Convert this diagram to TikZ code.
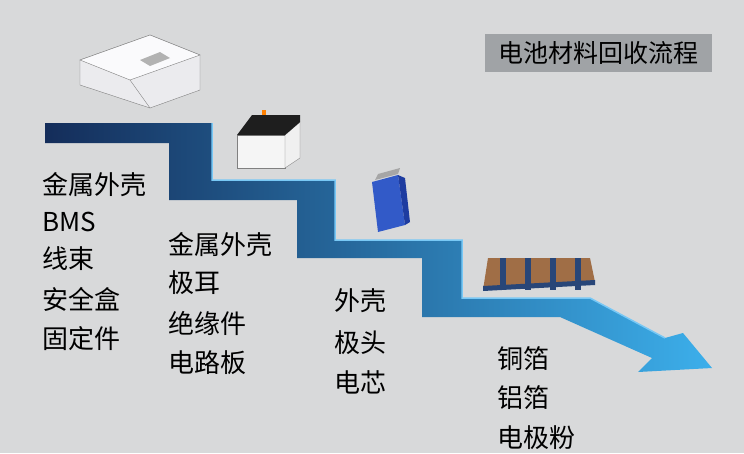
\documentclass[tikz,border=0pt]{standalone}
\usepackage{fontspec}
\setmainfont{Noto Sans CJK SC}
\begin{document}
\begin{tikzpicture}[x=1pt,y=-1pt,
  lbl/.style={anchor=west,font=\fontsize{26}{26}\selectfont,text=black,inner sep=0pt}]
\useasboundingbox (0,0) rectangle (744,453);
\fill[color={rgb,255:red,216;green,217;blue,218}] (0,0) rectangle (744,453);
% title
\node[fill={rgb,255:red,160;green,163;blue,166},minimum width=227pt,minimum height=38pt,inner sep=0pt,font=\fontsize{25}{25}\selectfont,text=black] (title) at (598,53) {电池材料回收流程};
% staircase arrow
\shade[left color={rgb,255:red,20;green,45;blue,90},right color={rgb,255:red,60;green,175;blue,235}]
 (45,123) -- (212,123) -- (212,180) -- (335,180) -- (335,240) -- (462,240) -- (462,298) -- (590,298)
 -- (665,338) -- (683,333) -- (712,368) -- (638,372) -- (652,358) -- (560,317) -- (422,317) -- (422,258)
 -- (297,258) -- (297,200) -- (169,200) -- (169,143) -- (45,143) -- cycle;
\draw[color={rgb,255:red,120;green,200;blue,245},line width=1.5pt] (212,123) -- (212,180) -- (335,180) -- (335,240) -- (462,240) -- (462,298) -- (590,298) -- (665,338);
% BMS box
\fill[color={rgb,255:red,235;green,235;blue,238},draw=gray] (80,60) -- (150,35) -- (200,55) -- (200,90) -- (150,108) -- (80,85) -- cycle;
\fill[color={rgb,255:red,250;green,250;blue,252},draw=gray] (80,60) -- (150,35) -- (200,55) -- (130,80) -- cycle;
\draw[gray] (130,80) -- (150,108);
\fill[gray!60] (140,60) -- (160,52) -- (170,58) -- (150,66) -- cycle;
% module
\fill[color={rgb,255:red,245;green,245;blue,245},draw=gray] (237,135) -- (285,135) -- (285,168) -- (237,168) -- cycle;
\fill[color={rgb,255:red,240;green,240;blue,240},draw=gray] (285,135) -- (300,122) -- (300,158) -- (285,168) -- cycle;
\fill[color={rgb,255:red,30;green,30;blue,30}] (237,135) -- (252,115) -- (300,115) -- (300,122) -- (285,135) -- cycle;
\fill[orange] (262,115) rectangle (266,110);
% cell
\fill[color={rgb,255:red,50;green,90;blue,200}] (372,182) -- (398,175) -- (405,225) -- (378,232) -- cycle;
\fill[color={rgb,255:red,30;green,60;blue,160}] (398,175) -- (405,178) -- (410,222) -- (405,225) -- cycle;
\fill[gray!70] (375,180) -- (398,174) -- (400,168) -- (378,174) -- cycle;
% stack
\fill[color={rgb,255:red,160;green,110;blue,70}] (488,258) -- (590,258) -- (595,282) -- (483,290) -- cycle;
\fill[color={rgb,255:red,40;green,70;blue,120}] (483,286) -- (595,280) -- (595,285) -- (483,291) -- cycle;
\foreach \xx in {500,525,550,575}{\fill[color={rgb,255:red,40;green,70;blue,120}] (\xx,258) rectangle (\xx+6,290);}
% labels
\node[lbl] (a1) at (42,185) {金属外壳};
\node[lbl] (a2) at (42,222) {BMS};
\node[lbl] (a3) at (42,259) {线束};
\node[lbl] (a4) at (42,299) {安全盒};
\node[lbl] (a5) at (42,339) {固定件};
\node[lbl] (b1) at (168,245) {金属外壳};
\node[lbl] (b2) at (168,283) {极耳};
\node[lbl] (b3) at (168,323) {绝缘件};
\node[lbl] (b4) at (168,363) {电路板};
\node[lbl] (c1) at (334,301) {外壳};
\node[lbl] (c2) at (334,343) {极头};
\node[lbl] (c3) at (334,382) {电芯};
\node[lbl] (d1) at (497,359) {铜箔};
\node[lbl] (d2) at (497,398) {铝箔};
\node[lbl] (d3) at (497,438) {电极粉};
\end{tikzpicture}
\end{document}
